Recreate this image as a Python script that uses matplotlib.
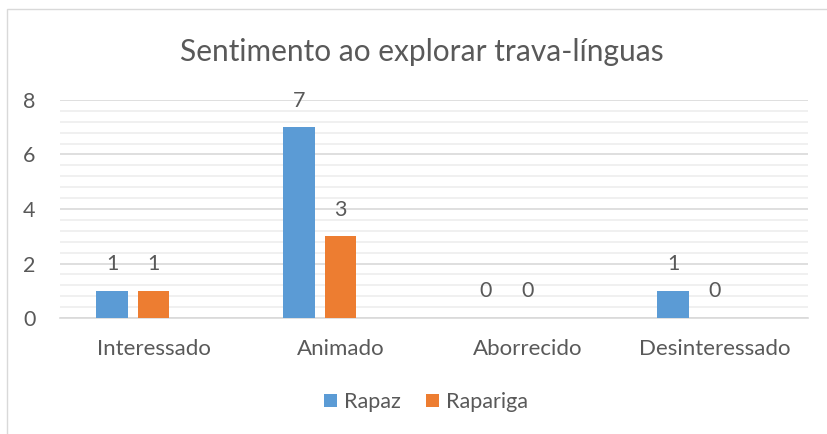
import matplotlib
matplotlib.use("Agg")
import matplotlib.pyplot as plt
from matplotlib.patches import Rectangle
from matplotlib.ticker import MultipleLocator
import numpy as np

categories = ["Interessado", "Animado", "Aborrecido", "Desinteressado"]
rapaz = [1, 7, 0, 1]
rapariga = [1, 3, 0, 0]
series_names = ["Rapaz", "Rapariga"]
title = "Sentimento ao explorar trava-línguas"

plt.rcParams["font.family"] = ["Lato", "DejaVu Sans"]
text_color = "#595959"
blue = "#5B9BD5"
orange = "#ED7D31"

fig = plt.figure(figsize=(8.28, 4.34), dpi=100)
fig.patch.set_facecolor("white")

# chart frame (left and top edges visible)
fig.add_artist(Rectangle((7 / 828, -0.05), 1.0, (434 - 9) / 434 + 0.05,
                         transform=fig.transFigure, fill=False,
                         edgecolor="#D9D9D9", linewidth=1.0))

ax = fig.add_axes([60 / 828, (434 - 318) / 434, 748 / 828, 218 / 434])
x = np.arange(len(categories))
width = 0.171
offset = 0.222

bars1 = ax.bar(x - offset, rapaz, width, color=blue, label=series_names[0], zorder=3)
bars2 = ax.bar(x, rapariga, width, color=orange, label=series_names[1], zorder=3)

for bars, vals in ((bars1, rapaz), (bars2, rapariga)):
    for b, v in zip(bars, vals):
        ax.annotate(str(v), (b.get_x() + b.get_width() / 2, v),
                    xytext=(0, 12), textcoords="offset points",
                    ha="center", va="bottom", fontsize=15.5, color=text_color)

ax.set_xlim(-0.5, len(categories) - 0.5)
ax.set_ylim(0, 8)
ax.yaxis.set_major_locator(MultipleLocator(2))
ax.yaxis.set_minor_locator(MultipleLocator(0.4))
ax.grid(axis="y", which="major", color="#D9D9D9", linewidth=1.2, zorder=0)
ax.grid(axis="y", which="minor", color="#EDEDED", linewidth=1.2, zorder=0)
ax.set_axisbelow(True)
for s in ("top", "right", "left"):
    ax.spines[s].set_visible(False)
ax.spines["bottom"].set_color("#D9D9D9")
ax.spines["bottom"].set_linewidth(1.2)
ax.set_xticks(x)
ax.set_xticklabels(categories)
ax.tick_params(axis="both", which="both", length=0, colors=text_color, labelsize=15.5)
ax.tick_params(axis="x", labelsize=16, pad=15)
ax.tick_params(axis="y", pad=22)
for lbl in ax.get_yticklabels():
    lbl.set_horizontalalignment("center")

fig.text(422 / 828, 1 - 52 / 434, title, ha="center", va="center",
         fontsize=21.5, color=text_color)

leg = fig.legend(handles=[bars1, bars2], labels=series_names,
                 loc="center", bbox_to_anchor=(426 / 828, 1 - 402 / 434),
                 ncol=2, frameon=False, fontsize=15.5, handlelength=0.6,
                 handleheight=0.6, handletextpad=0.3, columnspacing=1.2)
for t in leg.get_texts():
    t.set_color(text_color)

fig.savefig("out.png", dpi=100, facecolor="white")
